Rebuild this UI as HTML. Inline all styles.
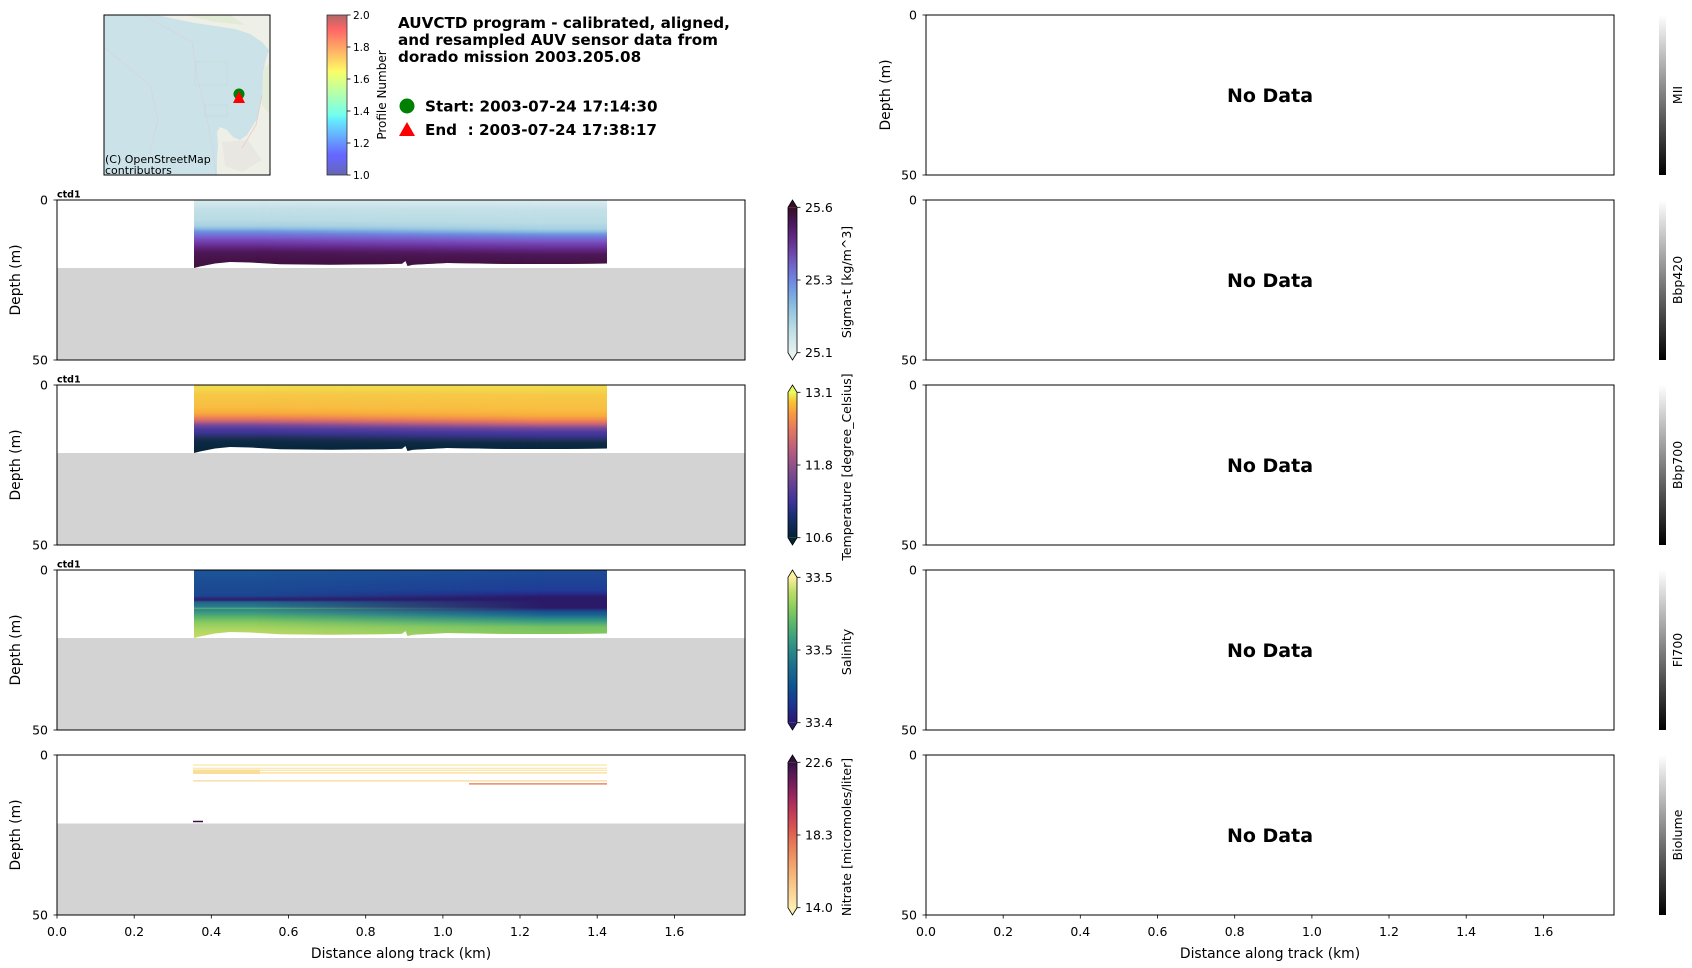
<!DOCTYPE html>
<html><head><meta charset="utf-8"><style>html,body{margin:0;padding:0;background:#fff}svg{display:block}</style></head>
<body>
<svg xmlns="http://www.w3.org/2000/svg" width="1692" height="968" viewBox="0 0 1692 968" font-family="DejaVu Sans, Liberation Sans, sans-serif">
<defs>
<linearGradient id="cbDense" x1="0" y1="0" x2="0" y2="1">
<stop offset="0" stop-color="#360e24"/><stop offset="0.1" stop-color="#48175a"/><stop offset="0.2" stop-color="#5e2780"/><stop offset="0.3" stop-color="#6c43a4"/><stop offset="0.4" stop-color="#7064c8"/><stop offset="0.5" stop-color="#6d86e0"/><stop offset="0.6" stop-color="#7aa6e2"/><stop offset="0.7" stop-color="#92c3e0"/><stop offset="0.85" stop-color="#bfdfe6"/><stop offset="1" stop-color="#e6f1f1"/>
</linearGradient>
<linearGradient id="cbThermal" x1="0" y1="0" x2="0" y2="1">
<stop offset="0" stop-color="#e8fa5b"/><stop offset="0.07" stop-color="#fabf33"/><stop offset="0.15" stop-color="#f79945"/><stop offset="0.25" stop-color="#e57a5e"/><stop offset="0.35" stop-color="#c76675"/><stop offset="0.45" stop-color="#a35785"/><stop offset="0.55" stop-color="#804c8c"/><stop offset="0.65" stop-color="#5e4094"/><stop offset="0.75" stop-color="#3d3399"/><stop offset="0.85" stop-color="#1a2e73"/><stop offset="1" stop-color="#042333"/>
</linearGradient>
<linearGradient id="cbHaline" x1="0" y1="0" x2="0" y2="1">
<stop offset="0" stop-color="#fdef9a"/><stop offset="0.1" stop-color="#bedd6a"/><stop offset="0.2" stop-color="#8dcf5e"/><stop offset="0.3" stop-color="#60bb6a"/><stop offset="0.4" stop-color="#40a37d"/><stop offset="0.5" stop-color="#2b8a87"/><stop offset="0.6" stop-color="#1f708c"/><stop offset="0.75" stop-color="#0e5391"/><stop offset="0.88" stop-color="#1b3390"/><stop offset="1" stop-color="#2a186c"/>
</linearGradient>
<linearGradient id="cbMatter" x1="0" y1="0" x2="0" y2="1">
<stop offset="0" stop-color="#2f0f3d"/><stop offset="0.05" stop-color="#4a1650"/><stop offset="0.15" stop-color="#771e5c"/><stop offset="0.25" stop-color="#a0295e"/><stop offset="0.35" stop-color="#c23c57"/><stop offset="0.45" stop-color="#d85552"/><stop offset="0.55" stop-color="#e67656"/><stop offset="0.7" stop-color="#f2a26c"/><stop offset="0.85" stop-color="#f9c98b"/><stop offset="1" stop-color="#fdedb0"/>
</linearGradient>
<linearGradient id="cbGray" x1="0" y1="0" x2="0" y2="1">
<stop offset="0" stop-color="#ffffff"/><stop offset="1" stop-color="#000000"/>
</linearGradient>
<linearGradient id="cbJet" x1="0" y1="0" x2="0" y2="1">
<stop offset="0" stop-color="#b26666"/><stop offset="0.09" stop-color="#ff6666"/><stop offset="0.11" stop-color="#ff7166"/><stop offset="0.34" stop-color="#fff466"/><stop offset="0.36" stop-color="#f5ff6a"/><stop offset="0.5" stop-color="#b0ffb0"/><stop offset="0.625" stop-color="#72ffee"/><stop offset="0.65" stop-color="#66f0fa"/><stop offset="0.66" stop-color="#66e9ff"/><stop offset="0.875" stop-color="#6666ff"/><stop offset="0.89" stop-color="#6666ff"/><stop offset="1" stop-color="#6666b2"/>
</linearGradient>

<linearGradient id="sL" x1="0" y1="0" x2="0" y2="1">
<stop offset="0" stop-color="#d9ebef"/><stop offset="0.132" stop-color="#c3e0e7"/><stop offset="0.294" stop-color="#b9dbe4"/><stop offset="0.382" stop-color="#a6d0e2"/><stop offset="0.426" stop-color="#86b8e0"/><stop offset="0.456" stop-color="#6f98df"/><stop offset="0.5" stop-color="#7078da"/><stop offset="0.55" stop-color="#7a5ccc"/><stop offset="0.6" stop-color="#7246b2"/><stop offset="0.66" stop-color="#6a3098"/><stop offset="0.7" stop-color="#5e2480"/><stop offset="0.76" stop-color="#4e1858"/><stop offset="0.87" stop-color="#451349"/><stop offset="1" stop-color="#3e103f"/>
</linearGradient>
<linearGradient id="sR" x1="0" y1="0" x2="0" y2="1">
<stop offset="0" stop-color="#dbecf0"/><stop offset="0.147" stop-color="#c3e0e7"/><stop offset="0.338" stop-color="#b9dbe4"/><stop offset="0.426" stop-color="#a6d0e2"/><stop offset="0.471" stop-color="#86b8e0"/><stop offset="0.5" stop-color="#6f98df"/><stop offset="0.544" stop-color="#7078da"/><stop offset="0.594" stop-color="#7a5ccc"/><stop offset="0.644" stop-color="#7246b2"/><stop offset="0.7" stop-color="#6a3098"/><stop offset="0.74" stop-color="#5e2480"/><stop offset="0.8" stop-color="#4e1858"/><stop offset="0.9" stop-color="#451349"/><stop offset="1" stop-color="#3e103f"/>
</linearGradient>
<linearGradient id="tL" x1="0" y1="0" x2="0" y2="1">
<stop offset="0" stop-color="#f0de4e"/><stop offset="0.07" stop-color="#f3d54b"/><stop offset="0.13" stop-color="#f6c946"/><stop offset="0.324" stop-color="#f8bd41"/><stop offset="0.412" stop-color="#f7ab3c"/><stop offset="0.456" stop-color="#f4904a"/><stop offset="0.5" stop-color="#e47560"/><stop offset="0.544" stop-color="#b85f7c"/><stop offset="0.588" stop-color="#7a4a98"/><stop offset="0.647" stop-color="#4e3aa0"/><stop offset="0.706" stop-color="#3a3592"/><stop offset="0.765" stop-color="#25305f"/><stop offset="0.824" stop-color="#0d2b45"/><stop offset="1" stop-color="#052338"/>
</linearGradient>
<linearGradient id="tR" x1="0" y1="0" x2="0" y2="1">
<stop offset="0" stop-color="#f0de4e"/><stop offset="0.088" stop-color="#f3d34b"/><stop offset="0.147" stop-color="#f6c946"/><stop offset="0.368" stop-color="#f8bd41"/><stop offset="0.456" stop-color="#f7ab3c"/><stop offset="0.5" stop-color="#f4904a"/><stop offset="0.544" stop-color="#e47560"/><stop offset="0.588" stop-color="#b85f7c"/><stop offset="0.632" stop-color="#7a4a98"/><stop offset="0.691" stop-color="#4e3aa0"/><stop offset="0.75" stop-color="#3a3592"/><stop offset="0.809" stop-color="#25305f"/><stop offset="0.853" stop-color="#0d2b45"/><stop offset="1" stop-color="#052338"/>
</linearGradient>
<linearGradient id="hL" x1="0" y1="0" x2="0" y2="1">
<stop offset="0" stop-color="#1d5596"/><stop offset="0.147" stop-color="#1b4f95"/><stop offset="0.382" stop-color="#1c4590"/><stop offset="0.412" stop-color="#2a2a7a"/><stop offset="0.441" stop-color="#2c1f6e"/><stop offset="0.471" stop-color="#23648c"/><stop offset="0.544" stop-color="#2a7b8c"/><stop offset="0.566" stop-color="#5bb070"/><stop offset="0.581" stop-color="#2e8688"/><stop offset="0.632" stop-color="#3d9a80"/><stop offset="0.706" stop-color="#62b866"/><stop offset="0.779" stop-color="#8ccb5f"/><stop offset="0.882" stop-color="#b0d662"/><stop offset="1" stop-color="#c4db66"/>
</linearGradient>
<linearGradient id="hR" x1="0" y1="0" x2="0" y2="1">
<stop offset="0" stop-color="#1d4c96"/><stop offset="0.294" stop-color="#1f3c97"/><stop offset="0.353" stop-color="#262a88"/><stop offset="0.397" stop-color="#2a1a68"/><stop offset="0.559" stop-color="#2a1a68"/><stop offset="0.603" stop-color="#1d4890"/><stop offset="0.662" stop-color="#1a6790"/><stop offset="0.721" stop-color="#2b8a88"/><stop offset="0.779" stop-color="#4aa879"/><stop offset="0.838" stop-color="#74c163"/><stop offset="1" stop-color="#8cca5e"/>
</linearGradient>
<linearGradient id="ramp" x1="0" y1="0" x2="1" y2="0">
<stop offset="0" stop-color="#000"/><stop offset="0.15" stop-color="#000"/><stop offset="0.85" stop-color="#fff"/><stop offset="1" stop-color="#fff"/>
</linearGradient>
<mask id="hm" maskUnits="userSpaceOnUse" x="0" y="-10" width="1692" height="200">
<rect x="194" y="0" width="413" height="70" fill="url(#ramp)"/>
</mask>
<clipPath id="dclip">
<polygon points="194,0 607,0 607,63.5 560,64 513,64 447,63 413,64.7 407.5,66 405.5,61 402,63.7 380,64.3 330,64.7 280,64.3 250,62.5 230,62 215,63.5 200,66.5 194,68"/>
</clipPath>
<clipPath id="mapclip"><rect x="104" y="15" width="166" height="160"/></clipPath>
</defs>

<rect width="1692" height="968" fill="#fff"/>

<!-- ============ MAP ============ -->
<g clip-path="url(#mapclip)">
<rect x="104" y="15" width="166" height="160" fill="#cbe2e9"/>
<path d="M157,15 L271,15 L271,175 L217,175 L217,159 L218,145 L217,132 L220,127 L227,130 L233,137 L240,140 L247,135 L257,119 L262,99 L263,79 L265,62 L269,50 L262,42 L250,34 L235,29 L215,26 L195,23 L175,19 Z" fill="#eeefe6"/>
<path d="M185,15 L230,15 L245,25 L215,22 Z" fill="#e2ebd6"/>
<path d="M263,70 L271,62 L271,115 L262,105 Z" fill="#e3ecd8"/>
<path d="M222,142 L248,140 L262,160 L242,172 L225,166 Z" fill="#e9e7e2"/>
<path d="M262,95 L256,125 L242,148" stroke="#ecc4c4" stroke-width="0.7" fill="none"/>
<path d="M105,48 L150,85 L158,120 L150,150 L160,175" stroke="#d8d0e0" stroke-width="0.6" fill="none"/>
<path d="M143,15 L192,42 L198,80 L207,118 L213,150 L216,175" stroke="#d8d0e0" stroke-width="0.6" fill="none"/>
<rect x="195" y="62" width="32" height="23" fill="none" stroke="#c4d8cc" stroke-width="0.5"/>
<rect x="205" y="105" width="22" height="11" fill="none" stroke="#c4d8cc" stroke-width="0.5"/>
<circle cx="239" cy="94" r="5.5" fill="#008000"/>
<polygon points="233,103 245,103 239,91" fill="#ff0000"/>
<text x="105" y="163" font-size="11" fill="#000">(C) OpenStreetMap</text>
<text x="105" y="174" font-size="11" fill="#000">contributors</text>
</g>
<rect x="104" y="15" width="166" height="160" fill="none" stroke="#000" stroke-width="1"/>

<!-- Profile colorbar -->
<rect x="327" y="15" width="20" height="160" fill="url(#cbJet)" stroke="#333" stroke-width="0.8"/>
<g stroke="#000" stroke-width="0.8">
<line x1="347" y1="15" x2="350.5" y2="15"/><line x1="347" y1="47" x2="350.5" y2="47"/><line x1="347" y1="79" x2="350.5" y2="79"/><line x1="347" y1="111" x2="350.5" y2="111"/><line x1="347" y1="143" x2="350.5" y2="143"/><line x1="347" y1="175" x2="350.5" y2="175"/>
</g>
<g font-size="10.5" fill="#000">
<text x="353" y="19">2.0</text><text x="353" y="51">1.8</text><text x="353" y="83">1.6</text><text x="353" y="115">1.4</text><text x="353" y="147">1.2</text><text x="353" y="179">1.0</text>
</g>
<text transform="translate(386,95) rotate(-90)" text-anchor="middle" font-size="12">Profile Number</text>

<!-- Title -->
<g font-weight="bold" font-size="15.2" fill="#000">
<text x="398" y="28">AUVCTD program - calibrated, aligned,</text>
<text x="398" y="45">and resampled AUV sensor data from</text>
<text x="398" y="62">dorado mission 2003.205.08</text>
<text x="425" y="111.5">Start: 2003-07-24 17:14:30</text>
<text x="425" y="135" xml:space="preserve">End  : 2003-07-24 17:38:17</text>
</g>
<circle cx="407" cy="106" r="7.5" fill="#008000"/>
<polygon points="399,136 415,136 407,122" fill="#ff0000"/>

<!-- ============ LEFT PANELS ============ -->
<g transform="translate(0,200)">
<rect x="57" y="68" width="688" height="92" fill="#d3d3d3"/>
<g clip-path="url(#dclip)">
<rect x="194" y="0" width="413" height="68" fill="url(#sL)"/>
<rect x="194" y="0" width="413" height="68" fill="url(#sR)" mask="url(#hm)"/>
</g>
<rect x="57" y="0" width="688" height="160" fill="none" stroke="#000" stroke-width="1"/>
<text x="57" y="-2.5" font-size="9.5" font-weight="bold">ctd1</text>
</g>
<g transform="translate(0,385)">
<rect x="57" y="68" width="688" height="92" fill="#d3d3d3"/>
<g clip-path="url(#dclip)">
<rect x="194" y="0" width="413" height="68" fill="url(#tL)"/>
<rect x="194" y="0" width="413" height="68" fill="url(#tR)" mask="url(#hm)"/>
</g>
<rect x="57" y="0" width="688" height="160" fill="none" stroke="#000" stroke-width="1"/>
<text x="57" y="-2.5" font-size="9.5" font-weight="bold">ctd1</text>
</g>
<g transform="translate(0,570)">
<rect x="57" y="68" width="688" height="92" fill="#d3d3d3"/>
<g clip-path="url(#dclip)">
<rect x="194" y="0" width="413" height="68" fill="url(#hL)"/>
<rect x="194" y="0" width="413" height="68" fill="url(#hR)" mask="url(#hm)"/>
</g>
<rect x="57" y="0" width="688" height="160" fill="none" stroke="#000" stroke-width="1"/>
<text x="57" y="-2.5" font-size="9.5" font-weight="bold">ctd1</text>
</g>
<g transform="translate(0,755)">
<rect x="57" y="68.5" width="688" height="91.5" fill="#d3d3d3"/>
<g fill="none">
<line x1="193" y1="10" x2="607" y2="10" stroke="#fbe6a6" stroke-width="1.2"/>
<line x1="193" y1="13.3" x2="607" y2="13.3" stroke="#fbe6a6" stroke-width="1.2"/>
<line x1="193" y1="15.3" x2="607" y2="15.3" stroke="#fbe3a0" stroke-width="1.2"/>
<line x1="193" y1="17.9" x2="607" y2="17.9" stroke="#fbe0a0" stroke-width="1.5"/>
<line x1="193" y1="25.9" x2="607" y2="25.9" stroke="#f9d89a" stroke-width="1.2"/>
<line x1="469" y1="28.9" x2="607" y2="28.9" stroke="#e98a62" stroke-width="1.5"/>
<line x1="193" y1="66.5" x2="203" y2="66.5" stroke="#3a1040" stroke-width="1.5"/>
</g>
<rect x="193" y="14.5" width="67" height="4.5" fill="#f9dd98"/>
<rect x="57" y="0" width="688" height="160" fill="none" stroke="#000" stroke-width="1"/>
</g>

<g stroke="#000" stroke-width="0.8">
<line x1="53.5" y1="200" x2="57" y2="200"/><line x1="53.5" y1="360" x2="57" y2="360"/>
<line x1="53.5" y1="385" x2="57" y2="385"/><line x1="53.5" y1="545" x2="57" y2="545"/>
<line x1="53.5" y1="570" x2="57" y2="570"/><line x1="53.5" y1="730" x2="57" y2="730"/>
<line x1="53.5" y1="755" x2="57" y2="755"/><line x1="53.5" y1="915" x2="57" y2="915"/>
</g>
<g font-size="12.5" text-anchor="end">
<text x="48" y="204.5">0</text><text x="48" y="364.5">50</text>
<text x="48" y="389.5">0</text><text x="48" y="549.5">50</text>
<text x="48" y="574.5">0</text><text x="48" y="734.5">50</text>
<text x="48" y="759.5">0</text><text x="48" y="919.5">50</text>
</g>
<g font-size="13.9" text-anchor="middle">
<text transform="translate(20,280) rotate(-90)">Depth (m)</text>
<text transform="translate(20,465) rotate(-90)">Depth (m)</text>
<text transform="translate(20,650) rotate(-90)">Depth (m)</text>
<text transform="translate(20,835) rotate(-90)">Depth (m)</text>
</g>
<g stroke="#000" stroke-width="0.8">
<line x1="57" y1="915" x2="57" y2="918.5"/><line x1="134.2" y1="915" x2="134.2" y2="918.5"/><line x1="211.3" y1="915" x2="211.3" y2="918.5"/><line x1="288.5" y1="915" x2="288.5" y2="918.5"/><line x1="365.7" y1="915" x2="365.7" y2="918.5"/><line x1="442.9" y1="915" x2="442.9" y2="918.5"/><line x1="520" y1="915" x2="520" y2="918.5"/><line x1="597.2" y1="915" x2="597.2" y2="918.5"/><line x1="674.4" y1="915" x2="674.4" y2="918.5"/>
</g>
<g font-size="12.5" text-anchor="middle">
<text x="57" y="936">0.0</text><text x="134.2" y="936">0.2</text><text x="211.3" y="936">0.4</text><text x="288.5" y="936">0.6</text><text x="365.7" y="936">0.8</text><text x="442.9" y="936">1.0</text><text x="520" y="936">1.2</text><text x="597.2" y="936">1.4</text><text x="674.4" y="936">1.6</text>
</g>
<text x="401" y="958" font-size="13.9" text-anchor="middle">Distance along track (km)</text>

<!-- Left colorbars -->
<g>
<rect x="788" y="207.3" width="9" height="145.4" fill="url(#cbDense)"/>
<polygon points="788,207.3 792.5,200 797,207.3" fill="#360e24"/>
<polygon points="788,352.7 792.5,360 797,352.7" fill="#e6f1f1"/>
<polygon points="788,207.3 792.5,200 797,207.3 797,352.7 792.5,360 788,352.7" fill="none" stroke="#000" stroke-width="0.8"/>
<rect x="788" y="392.3" width="9" height="145.4" fill="url(#cbThermal)"/>
<polygon points="788,392.3 792.5,385 797,392.3" fill="#e8fa5b"/>
<polygon points="788,537.7 792.5,545 797,537.7" fill="#042333"/>
<polygon points="788,392.3 792.5,385 797,392.3 797,537.7 792.5,545 788,537.7" fill="none" stroke="#000" stroke-width="0.8"/>
<rect x="788" y="577.3" width="9" height="145.4" fill="url(#cbHaline)"/>
<polygon points="788,577.3 792.5,570 797,577.3" fill="#fdef9a"/>
<polygon points="788,722.7 792.5,730 797,722.7" fill="#2a186c"/>
<polygon points="788,577.3 792.5,570 797,577.3 797,722.7 792.5,730 788,722.7" fill="none" stroke="#000" stroke-width="0.8"/>
<rect x="788" y="762.3" width="9" height="145.4" fill="url(#cbMatter)"/>
<polygon points="788,762.3 792.5,755 797,762.3" fill="#2f0f3d"/>
<polygon points="788,907.7 792.5,915 797,907.7" fill="#fdedb0"/>
<polygon points="788,762.3 792.5,755 797,762.3 797,907.7 792.5,915 788,907.7" fill="none" stroke="#000" stroke-width="0.8"/>
</g>
<g stroke="#000" stroke-width="0.8">
<line x1="797" y1="207.3" x2="800.5" y2="207.3"/><line x1="797" y1="280" x2="800.5" y2="280"/><line x1="797" y1="352.7" x2="800.5" y2="352.7"/>
<line x1="797" y1="392.3" x2="800.5" y2="392.3"/><line x1="797" y1="465" x2="800.5" y2="465"/><line x1="797" y1="537.7" x2="800.5" y2="537.7"/>
<line x1="797" y1="577.3" x2="800.5" y2="577.3"/><line x1="797" y1="650" x2="800.5" y2="650"/><line x1="797" y1="722.7" x2="800.5" y2="722.7"/>
<line x1="797" y1="762.3" x2="800.5" y2="762.3"/><line x1="797" y1="835" x2="800.5" y2="835"/><line x1="797" y1="907.7" x2="800.5" y2="907.7"/>
</g>
<g font-size="12.5">
<text x="805" y="211.8">25.6</text><text x="805" y="284.5">25.3</text><text x="805" y="357.2">25.1</text>
<text x="805" y="396.8">13.1</text><text x="805" y="469.5">11.8</text><text x="805" y="542.2">10.6</text>
<text x="805" y="581.8">33.5</text><text x="805" y="654.5">33.5</text><text x="805" y="727.2">33.4</text>
<text x="805" y="766.8">22.6</text><text x="805" y="839.5">18.3</text><text x="805" y="912.2">14.0</text>
</g>
<g font-size="12.5" text-anchor="middle">
<text transform="translate(851,282) rotate(-90)">Sigma-t [kg/m^3]</text>
<text transform="translate(851,467) rotate(-90)">Temperature [degree_Celsius]</text>
<text transform="translate(851,652) rotate(-90)">Salinity</text>
<text transform="translate(851,837) rotate(-90)">Nitrate [micromoles/liter]</text>
</g>

<!-- ============ RIGHT PANELS ============ -->
<g fill="none" stroke="#000" stroke-width="1">
<rect x="926" y="15" width="688" height="160"/>
<rect x="926" y="200" width="688" height="160"/>
<rect x="926" y="385" width="688" height="160"/>
<rect x="926" y="570" width="688" height="160"/>
<rect x="926" y="755" width="688" height="160"/>
</g>
<g font-size="19" font-weight="bold" text-anchor="middle">
<text x="1270" y="102">No Data</text>
<text x="1270" y="287">No Data</text>
<text x="1270" y="472">No Data</text>
<text x="1270" y="657">No Data</text>
<text x="1270" y="842">No Data</text>
</g>
<g stroke="#000" stroke-width="0.8">
<line x1="922.5" y1="15" x2="926" y2="15"/><line x1="922.5" y1="175" x2="926" y2="175"/>
<line x1="922.5" y1="200" x2="926" y2="200"/><line x1="922.5" y1="360" x2="926" y2="360"/>
<line x1="922.5" y1="385" x2="926" y2="385"/><line x1="922.5" y1="545" x2="926" y2="545"/>
<line x1="922.5" y1="570" x2="926" y2="570"/><line x1="922.5" y1="730" x2="926" y2="730"/>
<line x1="922.5" y1="755" x2="926" y2="755"/><line x1="922.5" y1="915" x2="926" y2="915"/>
</g>
<g font-size="12.5" text-anchor="end">
<text x="917" y="19.5">0</text><text x="917" y="179.5">50</text>
<text x="917" y="204.5">0</text><text x="917" y="364.5">50</text>
<text x="917" y="389.5">0</text><text x="917" y="549.5">50</text>
<text x="917" y="574.5">0</text><text x="917" y="734.5">50</text>
<text x="917" y="759.5">0</text><text x="917" y="919.5">50</text>
</g>
<text transform="translate(890,95) rotate(-90)" font-size="13.9" text-anchor="middle">Depth (m)</text>
<g stroke="#000" stroke-width="0.8">
<line x1="926" y1="915" x2="926" y2="918.5"/><line x1="1003.2" y1="915" x2="1003.2" y2="918.5"/><line x1="1080.3" y1="915" x2="1080.3" y2="918.5"/><line x1="1157.5" y1="915" x2="1157.5" y2="918.5"/><line x1="1234.7" y1="915" x2="1234.7" y2="918.5"/><line x1="1311.9" y1="915" x2="1311.9" y2="918.5"/><line x1="1389" y1="915" x2="1389" y2="918.5"/><line x1="1466.2" y1="915" x2="1466.2" y2="918.5"/><line x1="1543.4" y1="915" x2="1543.4" y2="918.5"/>
</g>
<g font-size="12.5" text-anchor="middle">
<text x="926" y="936">0.0</text><text x="1003.2" y="936">0.2</text><text x="1080.3" y="936">0.4</text><text x="1157.5" y="936">0.6</text><text x="1234.7" y="936">0.8</text><text x="1311.9" y="936">1.0</text><text x="1389" y="936">1.2</text><text x="1466.2" y="936">1.4</text><text x="1543.4" y="936">1.6</text>
</g>
<text x="1270" y="958" font-size="13.9" text-anchor="middle">Distance along track (km)</text>

<g>
<rect x="1659" y="15" width="7" height="160" fill="url(#cbGray)"/>
<rect x="1659" y="200" width="7" height="160" fill="url(#cbGray)"/>
<rect x="1659" y="385" width="7" height="160" fill="url(#cbGray)"/>
<rect x="1659" y="570" width="7" height="160" fill="url(#cbGray)"/>
<rect x="1659" y="755" width="7" height="160" fill="url(#cbGray)"/>
</g>
<g font-size="12.5" text-anchor="middle">
<text transform="translate(1682,95) rotate(-90)">MII</text>
<text transform="translate(1682,280) rotate(-90)">Bbp420</text>
<text transform="translate(1682,465) rotate(-90)">Bbp700</text>
<text transform="translate(1682,650) rotate(-90)">Fl700</text>
<text transform="translate(1682,835) rotate(-90)">Biolume</text>
</g>
</svg>
</body></html>
